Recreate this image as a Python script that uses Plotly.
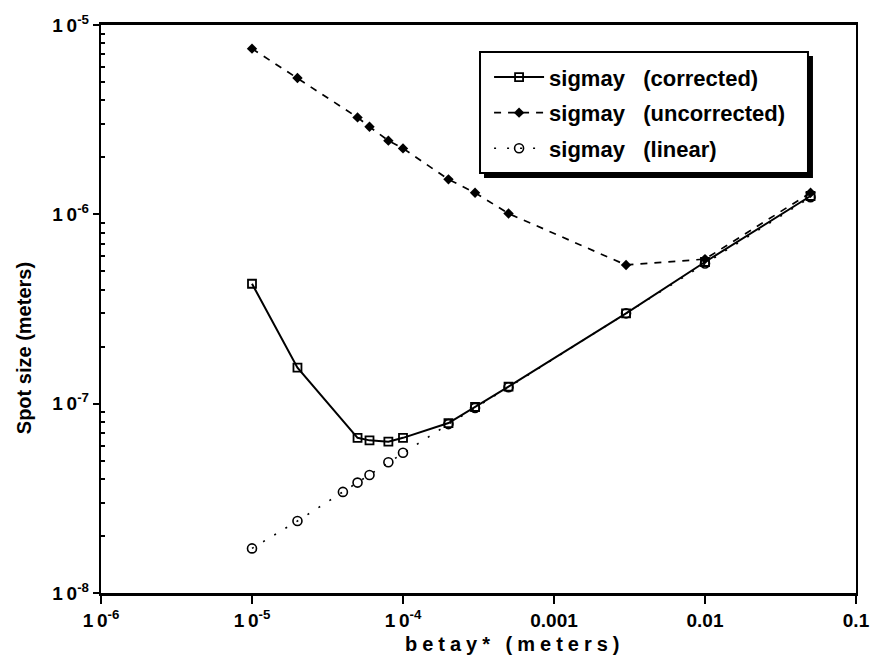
import plotly.graph_objects as go

# ---- data ----
beta_corr = [1e-5, 2e-5, 5e-5, 6e-5, 8e-5, 1e-4, 2e-4, 3e-4, 5e-4, 3e-3, 1e-2, 5e-2]
sig_corr = [4.3e-7, 1.55e-7, 6.6e-8, 6.4e-8, 6.3e-8, 6.6e-8, 7.9e-8, 9.6e-8, 1.23e-7, 3.0e-7, 5.6e-7, 1.25e-6]

beta_unc = [1e-5, 2e-5, 5e-5, 6e-5, 8e-5, 1e-4, 2e-4, 3e-4, 5e-4, 3e-3, 1e-2, 5e-2]
sig_unc = [7.5e-6, 5.25e-6, 3.25e-6, 2.9e-6, 2.45e-6, 2.23e-6, 1.53e-6, 1.3e-6, 1.01e-6, 5.4e-7, 5.8e-7, 1.3e-6]

beta_lin = [1e-5, 2e-5, 4e-5, 5e-5, 6e-5, 8e-5, 1e-4, 2e-4, 3e-4, 5e-4, 3e-3, 1e-2, 5e-2]
sig_lin = [1.72e-8, 2.4e-8, 3.42e-8, 3.83e-8, 4.2e-8, 4.9e-8, 5.5e-8, 7.8e-8, 9.5e-8, 1.22e-7, 3.0e-7, 5.5e-7, 1.23e-6]

series_names = ["sigmay\u00a0\u00a0\u00a0(corrected)", "sigmay\u00a0\u00a0\u00a0(uncorrected)", "sigmay\u00a0\u00a0\u00a0(linear)"]

x_tickvals = [1e-6, 1e-5, 1e-4, 1e-3, 1e-2, 1e-1]
x_ticktext = ["1\u20090<sup>-6</sup>", "1\u20090<sup>-5</sup>", "1\u20090<sup>-4</sup>", "0.001", "0.01", "0.1"]
y_tickvals = [1e-8, 1e-7, 1e-6, 1e-5]
y_ticktext = ["1\u20090<sup>-8</sup>", "1\u20090<sup>-7</sup>", "1\u20090<sup>-6</sup>", "1\u20090<sup>-5</sup>"]
y_minor_vals = [k * 10.0 ** e for e in (-8, -7, -6) for k in range(2, 10)]

x_title = "betay* (meters)"
y_title = "Spot size (meters)"

FONT = "Liberation Sans, Arial, sans-serif"

fig = go.Figure()
fig.add_trace(go.Scatter(
    x=beta_corr, y=sig_corr, mode="lines+markers", name=series_names[0], legendgroup="a",
    line=dict(color="black", width=2, dash="solid"),
    marker=dict(symbol="square-open", size=8, color="black", line=dict(width=1.8)),
))
fig.add_trace(go.Scatter(
    x=beta_unc, y=sig_unc, mode="lines+markers", name=series_names[1], legendgroup="b",
    line=dict(color="black", width=1.7, dash="7px,7px"),
    marker=dict(symbol="diamond", size=8, color="black"),
))
fig.add_trace(go.Scatter(
    x=beta_lin, y=sig_lin, mode="lines+markers", name=series_names[2], legendgroup="c",
    line=dict(color="black", width=1.6, dash="2px,11px"),
    marker=dict(symbol="circle-open", size=9, color="black", line=dict(width=1.6)),
))

# legend frame with drop shadow (bottom/right), drawn as shapes behind the legend
fig.add_shape(type="rect", xref="paper", yref="paper",
              x0=0.5073, x1=0.9430, y0=0.7306, y1=0.9454,
              fillcolor="black", line=dict(width=0), layer="above")
fig.add_shape(type="rect", xref="paper", yref="paper",
              x0=0.502, x1=0.9364, y0=0.7394, y1=0.9525,
              fillcolor="white", line=dict(color="black", width=2), layer="above")

# axis titles as annotations (offset from centre as in the reference)
fig.add_annotation(text=y_title, xref="paper", yref="paper", x=-0.102, y=0.431,
                   textangle=-90, showarrow=False, xanchor="center", yanchor="middle",
                   font=dict(family=FONT, size=20, weight="bold", color="black"))
fig.add_annotation(text="\u2005".join(x_title), xref="paper", yref="paper", x=0.545, y=-0.09,
                   showarrow=False, xanchor="center", yanchor="middle",
                   font=dict(family=FONT, size=20, weight="bold", color="black"))

fig.update_layout(
    width=870, height=671,
    margin=dict(l=101, r=14, t=25, b=78),
    paper_bgcolor="white", plot_bgcolor="white",
    font=dict(family=FONT, color="black", size=15),
    showlegend=True,
    legend=dict(
        x=0.514, y=0.945, xanchor="left", yanchor="top",
        bgcolor="rgba(0,0,0,0)", borderwidth=0,
        font=dict(family=FONT, size=22, color="black", weight="bold"),
        itemwidth=50, tracegroupgap=4,
    ),
    xaxis=dict(
        type="log", range=[-6, -1], automargin=False,
        tickvals=x_tickvals, ticktext=x_ticktext,
        ticks="outside", ticklen=8, tickwidth=2, tickcolor="black",
        showline=True, linewidth=2.8, linecolor="black", mirror=True,
        showgrid=False, zeroline=False,
        tickfont=dict(family=FONT, size=19, weight="bold"),
    ),
    yaxis=dict(
        type="log", range=[-8, -5], automargin=False,
        tickvals=y_tickvals, ticktext=y_ticktext,
        ticks="outside", ticklen=6, tickwidth=2, tickcolor="black",
        showline=True, linewidth=2.4, linecolor="black", mirror=True,
        showgrid=False, zeroline=False,
        minor=dict(tickmode="array", tickvals=y_minor_vals, ticks="inside",
                   ticklen=4, tickwidth=1.5, tickcolor="black", showgrid=False),
        tickfont=dict(family=FONT, size=19, weight="bold"),
    ),
)

fig.write_html("out.html")
